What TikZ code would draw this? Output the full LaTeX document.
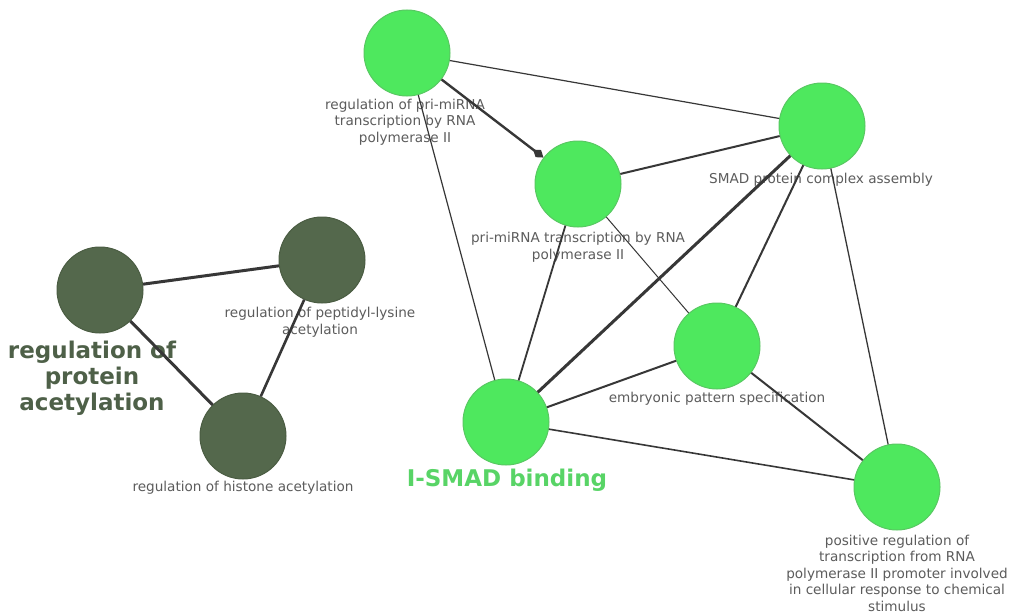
\documentclass[tikz,border=0pt]{standalone}
\usepackage{fontspec}
\setmainfont{DejaVu Sans}
\usetikzlibrary{arrows.meta}
\definecolor{termgreen}{RGB}{78,232,94}
\definecolor{termgreenrim}{RGB}{88,200,98}
\definecolor{termdark}{RGB}{84,104,76}
\definecolor{termdarkrim}{RGB}{74,92,66}
\definecolor{biglight}{RGB}{88,212,102}
\definecolor{bigdark}{RGB}{78,96,72}
\definecolor{labelgray}{RGB}{92,92,92}
\definecolor{edgegray}{RGB}{55,55,55}
\tikzset{
  term/.style={circle, inner sep=0pt, minimum size=86pt, line width=1pt},
  lightterm/.style={term, fill=termgreen, draw=termgreenrim},
  darkterm/.style={term, fill=termdark, draw=termdarkrim},
  smalllabel/.style={align=center, text=labelgray, inner sep=0pt,
    font=\fontsize{13.6pt}{16.5pt}\selectfont},
  grouplabel/.style={align=center, inner sep=0pt,
    font=\fontsize{23pt}{26pt}\selectfont\bfseries},
  link/.style={draw=edgegray, line width=#1},
  link/.default=2pt
}
\begin{document}
\begin{tikzpicture}[x=1pt, y=-1pt]
\useasboundingbox (0,0) rectangle (1009,613);
\fill[white] (0,0) rectangle (1009,613);

% term labels
\node[smalllabel] (lregpri) at (405,122) {regulation of pri-miRNA\\transcription by RNA\\polymerase II};
\node[smalllabel] (lpri) at (578,247) {pri-miRNA transcription by RNA\\polymerase II};
\node[smalllabel] (lsmad) at (821,180) {SMAD protein complex assembly};
\node[smalllabel] (lemb) at (717,399) {embryonic pattern specification};
\node[smalllabel] (lpos) at (897,573) {positive regulation of\\transcription from RNA\\polymerase II promoter involved\\in cellular response to chemical\\stimulus};
\node[smalllabel] (lpep) at (320,322) {regulation of peptidyl-lysine\\acetylation};
\node[smalllabel] (lhis) at (243,488) {regulation of histone acetylation};
\node[grouplabel, text=biglight] (lismad) at (507,480) {I-SMAD binding};
\node[grouplabel, text=bigdark] (lprot) at (92,378) {regulation of\\protein\\acetylation};

% terms
\node[lightterm] (regpri) at (407,53) {};
\node[lightterm] (pri) at (578,184) {};
\node[lightterm] (smad) at (822,126) {};
\node[lightterm] (emb) at (717,346) {};
\node[lightterm] (ismad) at (506,422) {};
\node[lightterm] (pos) at (897,487) {};
\node[darkterm] (prot) at (100,290) {};
\node[darkterm] (pep) at (322,260) {};
\node[darkterm] (his) at (243,436) {};

% connections
\draw[link=2.4pt, -{Diamond[length=13pt, width=9pt]}] (regpri) -- (pri);
\draw[link=1.2pt] (regpri) -- (smad);
\draw[link=1.2pt] (regpri) -- (ismad);
\draw[link=2pt] (pri) -- (smad);
\draw[link=1.8pt] (pri) -- (ismad);
\draw[link=1pt] (pri) -- (emb);
\draw[link=3pt] (smad) -- (ismad);
\draw[link=2pt] (smad) -- (emb);
\draw[link=1.3pt] (smad) -- (pos);
\draw[link=2pt] (emb) -- (ismad);
\draw[link=2pt] (emb) -- (pos);
\draw[link=1.6pt] (ismad) -- (pos);
\draw[link=3pt] (prot) -- (pep);
\draw[link=3pt] (prot) -- (his);
\draw[link=2.6pt] (pep) -- (his);
\end{tikzpicture}
\end{document}
